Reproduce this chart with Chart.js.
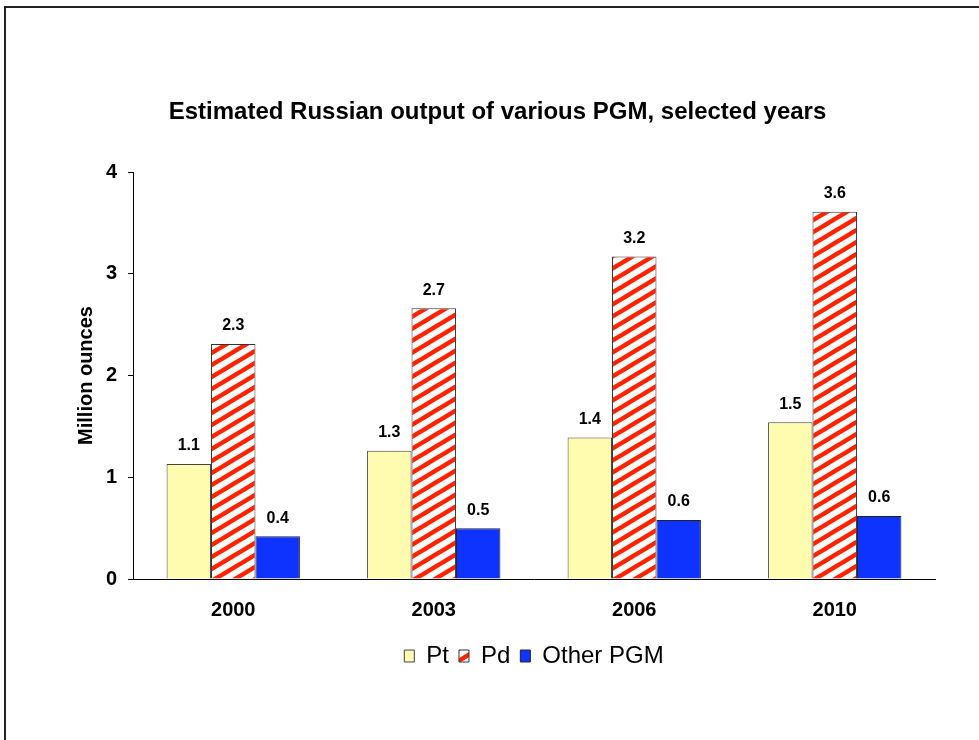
<!DOCTYPE html>
<html lang="en">
<head>
    <meta charset="UTF-8">
    <title>Estimated Russian output of various PGM, selected years</title>
    <style>
        body {
            margin: 0;
            background: #fff;
            overflow: hidden;
        }
        #chart {
            position: absolute;
            left: 0;
            top: 0;
        }
        /* outer frame of the original figure, runs off the right and bottom */
        .frame {
            position: absolute;
            left: 4px;
            top: 6px;
            width: 1000px;
            height: 800px;
            border-left: 2px solid #222;
            border-top: 2px solid #222;
            pointer-events: none;
        }
    </style>
    <script src="https://cdn.jsdelivr.net/npm/chart.js"></script>
</head>
<body>
    <canvas id="chart" width="979" height="740"></canvas>
    <div class="frame"></div>

    <script>
        const years = ['2000', '2003', '2006', '2010'];
        const ptOutput = [1.13, 1.26, 1.39, 1.54];
        const pdOutput = [2.31, 2.66, 3.17, 3.61];
        const otherOutput = [0.42, 0.50, 0.58, 0.62];
        const yMin = 0;
        const yMax = 4;
        const yStep = 1;

        const fontFamily = 'Arial, "Liberation Sans", sans-serif';
        Chart.defaults.font.family = fontFamily;
        Chart.defaults.color = '#000';

        const ctx = document.getElementById('chart').getContext('2d');

        // red "/" stripes on white, like the Excel pattern fill
        function stripePattern() {
            const w = 20, h = 12;
            const tile = document.createElement('canvas');
            tile.width = w;
            tile.height = h;
            const g = tile.getContext('2d');
            g.fillStyle = '#fff';
            g.fillRect(0, 0, w, h);
            g.strokeStyle = '#ff2200';
            g.lineWidth = 4.5;
            g.beginPath();
            // three parallel lines so the tile edges join up
            for (const k of [-1, 0, 1]) {
                g.moveTo(-w, 2 * h + k * h);
                g.lineTo(2 * w, -h + k * h);
            }
            g.stroke();
            return ctx.createPattern(tile, 'repeat');
        }

        // value labels above each bar
        const barValueLabels = {
            id: 'barValueLabels',
            afterDatasetsDraw(chart) {
                const c = chart.ctx;
                c.save();
                c.font = 'bold 16px ' + fontFamily;
                c.fillStyle = '#000';
                c.textAlign = 'center';
                c.textBaseline = 'middle';
                chart.data.datasets.forEach((ds, i) => {
                    chart.getDatasetMeta(i).data.forEach((bar, j) => {
                        c.fillText(ds.data[j].toFixed(1), bar.x, bar.y - 18);
                    });
                });
                c.restore();
            }
        };

        new Chart(ctx, {
            type: 'bar',
            data: {
                labels: years,
                datasets: [{
                    label: 'Pt',
                    data: ptOutput,
                    backgroundColor: '#fffcb0',
                    borderColor: '#444',
                    borderWidth: 1
                }, {
                    label: 'Pd',
                    data: pdOutput,
                    backgroundColor: stripePattern(),
                    borderColor: '#333',
                    borderWidth: 1
                }, {
                    label: 'Other PGM',
                    data: otherOutput,
                    backgroundColor: '#0f33ff',
                    borderColor: '#222',
                    borderWidth: 1
                }]
            },
            options: {
                responsive: false,
                animation: false,
                devicePixelRatio: 1,
                barPercentage: 1,
                categoryPercentage: 0.665,
                layout: {
                    padding: { left: 60, right: 44, top: 0, bottom: 62 }
                },
                plugins: {
                    title: {
                        display: true,
                        text: 'Estimated Russian output of various PGM, selected years',
                        font: { size: 24, weight: 'bold' },
                        color: '#000',
                        padding: { top: 97.6, bottom: 45.6 }
                    },
                    legend: {
                        position: 'bottom',
                        fullSize: false,
                        labels: {
                            font: { size: 24 },
                            color: '#000',
                            boxWidth: 10,
                            boxHeight: 12,
                            padding: 10
                        }
                    },
                    tooltip: { enabled: false }
                },
                scales: {
                    x: {
                        grid: { drawOnChartArea: false, drawTicks: false },
                        border: { color: '#000', width: 1 },
                        ticks: {
                            font: { size: 20, weight: 'bold' },
                            color: '#000',
                            padding: 19
                        },
                        afterFit(scale) { scale.height = 55; }
                    },
                    y: {
                        min: yMin,
                        max: yMax,
                        grid: { drawOnChartArea: false, tickLength: 5, color: '#000' },
                        border: { color: '#000', width: 1 },
                        ticks: {
                            stepSize: yStep,
                            font: { size: 20, weight: 'bold' },
                            color: '#000',
                            padding: 11
                        },
                        title: {
                            display: true,
                            text: 'Million ounces',
                            font: { size: 20, weight: 'bold' },
                            color: '#000',
                            padding: { top: 14, bottom: 0 }
                        },
                        afterFit(scale) { scale.width = 73; }
                    }
                }
            },
            plugins: [barValueLabels]
        });
    </script>
</body>
</html>
